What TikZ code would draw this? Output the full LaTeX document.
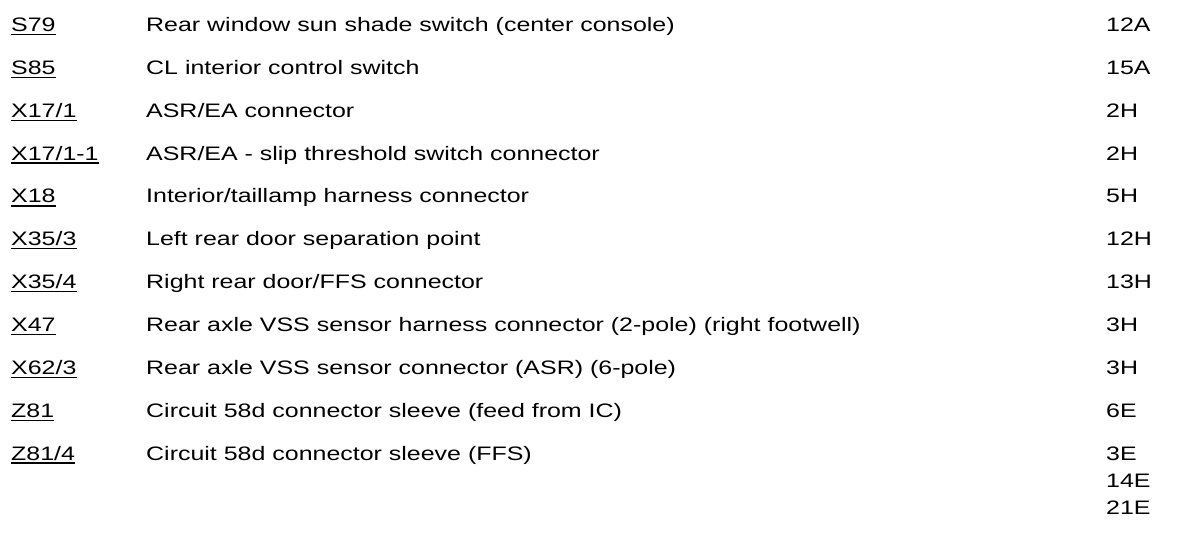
\documentclass[tikz,border=0pt]{standalone}
\usepackage{fontspec}
\setmainfont{Liberation Sans}[FakeStretch=1.28]
\begin{document}
\begin{tikzpicture}[x=1pt,y=-1pt,
  cell/.style={anchor=base west, inner sep=0pt, font=\fontsize{19.5}{22}\selectfont},
  uline/.style={line width=1.3pt, black}]
\path[fill=white] (0,0) rectangle (1200,552);
% codes
\node[cell] (c1)  at (11,31.5)  {S79};
\node[cell] (c2)  at (11,74.35) {S85};
\node[cell] (c3)  at (11,117.2) {X17/1};
\node[cell] (c4)  at (11,160.05) {X17/1-1};
\node[cell] (c5)  at (11,202.9) {X18};
\node[cell] (c6)  at (11,245.75) {X35/3};
\node[cell] (c7)  at (11,288.6) {X35/4};
\node[cell] (c8)  at (11,331.45) {X47};
\node[cell] (c9)  at (11,374.3) {X62/3};
\node[cell] (c10) at (11,417.15) {Z81};
\node[cell] (c11) at (11,460) {Z81/4};
\foreach \n in {c1,c2,c3,c4,c5,c6,c7,c8,c9,c10,c11}
  \draw[uline] ([yshift=-3pt]\n.base west) -- ([yshift=-3pt]\n.base east);
% descriptions
\node[cell] (d1)  at (146,31.5)  {Rear window sun shade switch (center console)};
\node[cell] (d2)  at (146,74.35) {CL interior control switch};
\node[cell] (d3)  at (146,117.2) {ASR/EA connector};
\node[cell] (d4)  at (146,160.05) {ASR/EA - slip threshold switch connector};
\node[cell] (d5)  at (146,202.9) {Interior/taillamp harness connector};
\node[cell] (d6)  at (146,245.75) {Left rear door separation point};
\node[cell] (d7)  at (146,288.6) {Right rear door/FFS connector};
\node[cell] (d8)  at (146,331.45) {Rear axle VSS sensor harness connector (2-pole) (right footwell)};
\node[cell] (d9)  at (146,374.3) {Rear axle VSS sensor connector (ASR) (6-pole)};
\node[cell] (d10) at (146,417.15) {Circuit 58d connector sleeve (feed from IC)};
\node[cell] (d11) at (146,460) {Circuit 58d connector sleeve (FFS)};
% grid references
\node[cell] (r1)  at (1106,31.5)  {12A};
\node[cell] (r2)  at (1106,74.35) {15A};
\node[cell] (r3)  at (1106,117.2) {2H};
\node[cell] (r4)  at (1106,160.05) {2H};
\node[cell] (r5)  at (1106,202.9) {5H};
\node[cell] (r6)  at (1106,245.75) {12H};
\node[cell] (r7)  at (1106,288.6) {13H};
\node[cell] (r8)  at (1106,331.45) {3H};
\node[cell] (r9)  at (1106,374.3) {3H};
\node[cell] (r10) at (1106,417.15) {6E};
\node[cell] (r11) at (1106,460) {3E};
\node[cell] (r12) at (1106,487.5) {14E};
\node[cell] (r13) at (1106,514) {21E};
\end{tikzpicture}
\end{document}
